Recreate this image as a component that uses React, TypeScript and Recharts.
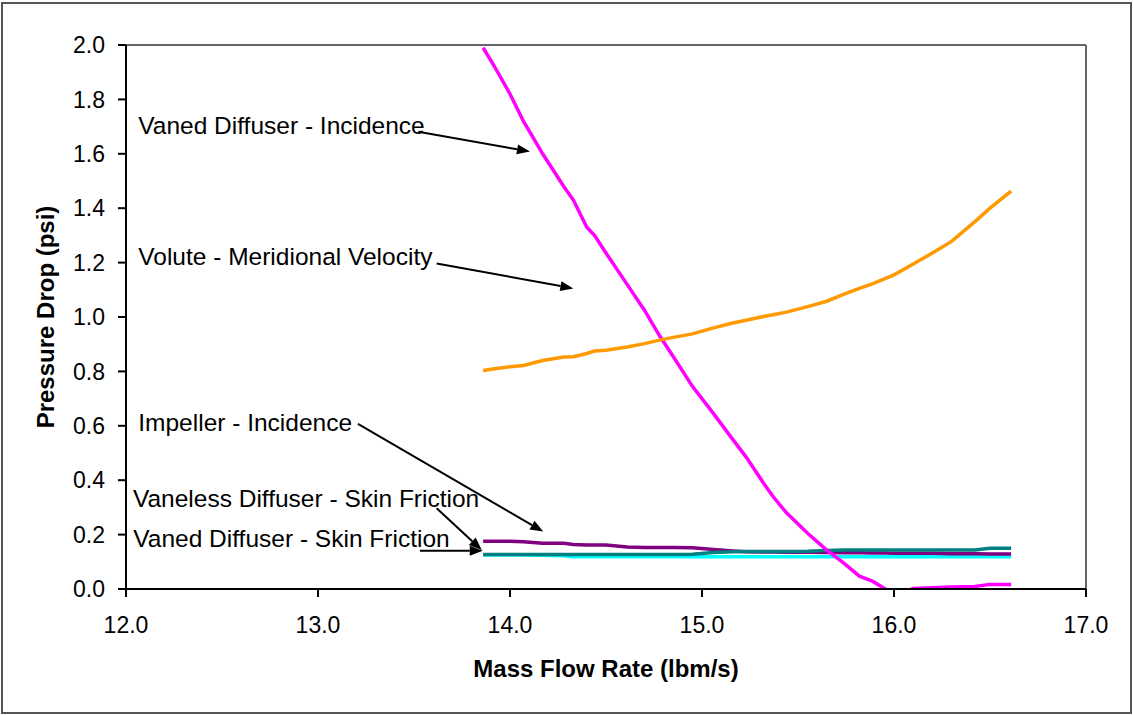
import {
  LineChart,
  Line,
  XAxis,
  YAxis,
  ReferenceLine,
  ReferenceDot,
  Label,
} from "recharts";

const FONT = "'Liberation Sans', Arial, sans-serif";

// mass flow rate (lbm/s) sample points
const flow = [
  13.86, 13.92, 14.0, 14.07, 14.17, 14.28, 14.33, 14.4, 14.44, 14.5, 14.61, 14.7,
  14.78, 14.85, 14.95, 15.06, 15.16, 15.23, 15.32, 15.37, 15.44, 15.55, 15.65,
  15.74, 15.82, 15.89, 15.95, 16.0, 16.05, 16.1, 16.2, 16.3, 16.42, 16.5, 16.61,
];

const vanedIncidence = [
  1.99, 1.92, 1.82, 1.72, 1.6, 1.48, 1.43, 1.33, 1.3, 1.235, 1.12, 1.025, 0.93,
  0.855, 0.745, 0.645, 0.55, 0.485, 0.39, 0.34, 0.28, 0.205, 0.143, 0.094, 0.047,
  0.028, 0.002, -0.015, -0.012, 0.002, 0.005, 0.007, 0.009, 0.017, 0.017,
];

const voluteMeridional = [
  0.803, 0.81, 0.817, 0.822, 0.84, 0.853, 0.854, 0.866, 0.875, 0.878, 0.89, 0.902,
  0.915, 0.925, 0.938, 0.96, 0.978, 0.988, 1.002, 1.008, 1.018, 1.038, 1.058,
  1.084, 1.105, 1.123, 1.14, 1.155, 1.175, 1.195, 1.235, 1.278, 1.35, 1.4, 1.463,
];

const impellerIncidence = [
  0.176, 0.176, 0.176, 0.174, 0.168, 0.168, 0.164, 0.162, 0.162, 0.162, 0.154,
  0.153, 0.153, 0.153, 0.152, 0.145, 0.14, 0.137, 0.136, 0.136, 0.135, 0.135,
  0.134, 0.133, 0.133, 0.132, 0.132, 0.131, 0.131, 0.131, 0.131, 0.13, 0.13, 0.129,
  0.129,
];

const vanelessFriction = [
  0.127, 0.127, 0.127, 0.127, 0.127, 0.127, 0.127, 0.127, 0.127, 0.127, 0.127,
  0.127, 0.127, 0.127, 0.128, 0.134, 0.137, 0.138, 0.138, 0.138, 0.138, 0.139,
  0.142, 0.143, 0.143, 0.143, 0.143, 0.143, 0.143, 0.143, 0.143, 0.143, 0.143,
  0.15, 0.15,
];

const vanedFriction = [
  0.125, 0.125, 0.125, 0.125, 0.124, 0.122, 0.119, 0.119, 0.119, 0.119, 0.119,
  0.119, 0.119, 0.119, 0.119, 0.119, 0.119, 0.119, 0.119, 0.119, 0.119, 0.119,
  0.119, 0.119, 0.119, 0.119, 0.119, 0.119, 0.119, 0.119, 0.119, 0.119, 0.119,
  0.119, 0.119,
];

const xTicks = [12, 13, 14, 15, 16, 17];
const yTicks = [0, 0.2, 0.4, 0.6, 0.8, 1.0, 1.2, 1.4, 1.6, 1.8, 2.0];

// callout labels with arrows, in data coordinates
const notes = [
  { text: "Vaned Diffuser - Incidence", at: [12.064, 1.674], from: [13.522, 1.681], to: [14.104, 1.608] },
  { text: "Volute - Meridional Velocity", at: [12.064, 1.191], from: [13.618, 1.197], to: [14.33, 1.105] },
  { text: "Impeller - Incidence", at: [12.064, 0.581], from: [13.208, 0.607], to: [14.173, 0.211] },
  { text: "Vaneless Diffuser - Skin Friction", at: [12.036, 0.301], from: [13.618, 0.297], to: [13.853, 0.143] },
  { text: "Vaned Diffuser - Skin Friction", at: [12.038, 0.156], from: [13.531, 0.141], to: [13.858, 0.141] },
];

const data = flow.map((x, i) => ({
  x,
  vanedIncidence: vanedIncidence[i],
  voluteMeridional: voluteMeridional[i],
  impellerIncidence: impellerIncidence[i],
  vanelessFriction: vanelessFriction[i],
  vanedFriction: vanedFriction[i],
}));

const Arrow = (p: any) => {
  const { x1, y1, x2, y2 } = p;
  const a = Math.atan2(y2 - y1, x2 - x1);
  const len = 13;
  const half = 5;
  const bx = x2 - len * Math.cos(a);
  const by = y2 - len * Math.sin(a);
  const pts = [
    `${x2},${y2}`,
    `${bx - half * Math.sin(a)},${by + half * Math.cos(a)}`,
    `${bx + half * Math.sin(a)},${by - half * Math.cos(a)}`,
  ].join(" ");
  return (
    <g>
      <line x1={x1} y1={y1} x2={bx} y2={by} stroke="#000" strokeWidth={2} />
      <polygon points={pts} fill="#000" />
    </g>
  );
};

const noteText = (text: string) => (p: any) => (
  <text x={p.cx} y={p.cy} fontSize={24.5} fontFamily={FONT} fill="#000">
    {text}
  </text>
);

const tickStyle = { fill: "#000", fontSize: 23, fontFamily: FONT };

export default function App() {
  return (
    <div style={{ position: "absolute", left: 0, top: 0, width: 1133, height: 715, background: "#fff" }}>
      <LineChart
        width={1133}
        height={715}
        data={data}
        margin={{ top: 45, right: 47, bottom: 0, left: 0 }}
      >
        <XAxis
          dataKey="x"
          type="number"
          domain={[12, 17]}
          ticks={xTicks}
          tickFormatter={(v: number) => v.toFixed(1)}
          height={126}
          stroke="#000"
          strokeWidth={2}
          tickSize={8}
          tickMargin={20}
          tick={tickStyle}
        >
          <Label
            value="Mass Flow Rate (lbm/s)"
            position="insideBottom"
            offset={38}
            style={{ fontSize: 24, fontWeight: "bold", fontFamily: FONT, fill: "#000" }}
          />
        </XAxis>
        <YAxis
          type="number"
          domain={[0, 2]}
          allowDataOverflow
          ticks={yTicks}
          tickFormatter={(v: number) => v.toFixed(1)}
          width={126}
          stroke="#000"
          strokeWidth={2}
          tickSize={8}
          tickMargin={13}
          tick={tickStyle}
        >
          <Label
            value="Pressure Drop (psi)"
            angle={-90}
            position="center"
            dx={-18}
            style={{ fontSize: 24, fontWeight: "bold", fontFamily: FONT, fill: "#000", textAnchor: "middle" }}
          />
        </YAxis>
        <ReferenceLine y={2} stroke="#666" strokeWidth={2} />
        <ReferenceLine x={17} stroke="#666" strokeWidth={2} />

        <Line dataKey="vanedFriction" stroke="#00FFFF" strokeWidth={3.5} dot={false} isAnimationActive={false} />
        <Line dataKey="impellerIncidence" stroke="#800080" strokeWidth={3.5} dot={false} isAnimationActive={false} />
        <Line dataKey="vanelessFriction" stroke="#008080" strokeWidth={3.5} dot={false} isAnimationActive={false} />
        <Line dataKey="vanedIncidence" stroke="#FF00FF" strokeWidth={3.5} dot={false} isAnimationActive={false} />
        <Line dataKey="voluteMeridional" stroke="#FF9900" strokeWidth={3.5} dot={false} isAnimationActive={false} />

        {notes.map((n) => (
          <ReferenceDot key={`t-${n.text}`} x={n.at[0]} y={n.at[1]} r={0} shape={noteText(n.text)} />
        ))}
        {notes.map((n) => (
          <ReferenceLine
            key={`a-${n.text}`}
            segment={[
              { x: n.from[0], y: n.from[1] },
              { x: n.to[0], y: n.to[1] },
            ]}
            shape={Arrow}
          />
        ))}
      </LineChart>
      <div
        style={{
          position: "absolute",
          left: 1,
          top: 2,
          width: 1131,
          height: 712,
          boxSizing: "border-box",
          border: "2px solid #555",
          pointerEvents: "none",
        }}
      />
    </div>
  );
}
